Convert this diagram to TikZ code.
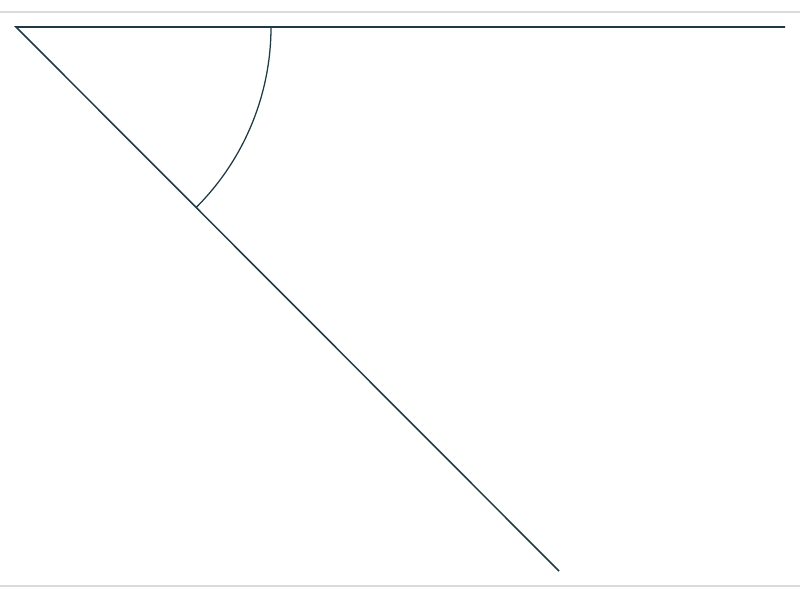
\documentclass[tikz,border=0pt]{standalone}
\usepackage{tikz}
\usepackage{amsmath,amssymb}

\definecolor{slate}{RGB}{30,59,68}
\definecolor{rule}{RGB}{218,218,218}

\begin{document}
\begin{tikzpicture}[x=0.025cm,y=-0.025cm]

          \useasboundingbox (0,0) rectangle (800,600);

          \draw[rule, line width=0.75pt] (0,12)--(800,12);
          \draw[rule, line width=0.75pt] (0,586)--(800,586);

          \begin{scope}[shift={(16,27)}]
            \coordinate (o) at (0,0);
            \coordinate (h) at (769,0);
            \coordinate (d) at (543,544);
            \coordinate (a) at (255,0);

            \draw[slate, line width=1.1pt] (h)--(o)--(d);
            \draw[slate, line width=0.9pt] (a) arc [start angle=0, end angle=45, radius=255];
          \end{scope}

        \end{tikzpicture}
\end{document}
